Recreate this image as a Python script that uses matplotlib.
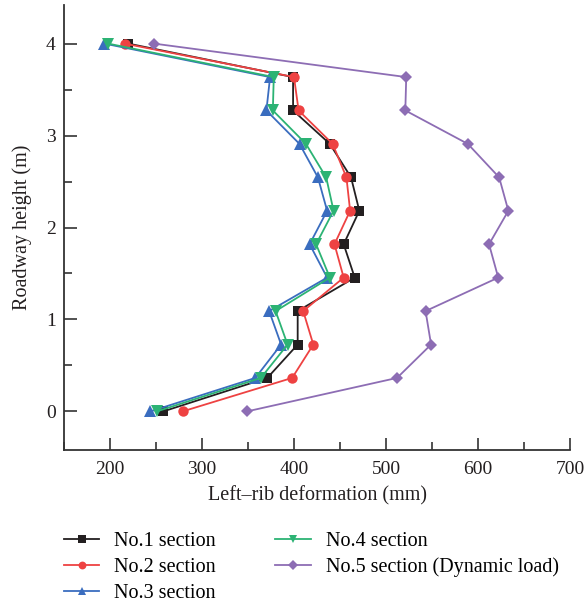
import matplotlib
matplotlib.use("Agg")
import matplotlib.pyplot as plt
from matplotlib.ticker import MultipleLocator

plt.rcParams['font.family'] = ['Liberation Serif', 'DejaVu Serif']

heights = [0, 0.364, 0.727, 1.091, 1.455, 1.818, 2.182, 2.545, 2.909, 3.273, 3.636, 4.0]
sec1 = [258, 371, 404, 404, 466, 454, 471, 462, 439, 399, 399, 220]
sec2 = [279, 398, 421, 410, 454, 444, 461, 457, 442, 405, 400, 216]
sec3 = [244, 358, 386, 373, 436, 417, 436, 426, 406, 370, 374, 194]
sec4 = [251, 364, 393, 380, 439, 424, 443, 435, 413, 377, 378, 198]
sec5 = [349, 512, 549, 543, 622, 612, 633, 623, 589, 521, 522, 248]

labels = ["No.1 section", "No.2 section", "No.3 section", "No.4 section",
          "No.5 section (Dynamic load)"]
series = [sec1, sec2, sec3, sec4, sec5]
colors = ["#231f20", "#ee4242", "#3a6dbf", "#2cb374", "#8d6db4"]
markers = ["s", "o", "^", "v", "D"]
msizes = [7.5, 7.5, 8, 8, 6.5]

fig = plt.figure(figsize=(5.87, 6.07), dpi=100)
ax = fig.add_axes([64/587, 1-450/607, (570-64)/587, (450-5)/607])

for s, lab, c, m, ms in zip(series, labels, colors, markers, msizes):
    ax.plot(s, heights, color=c, marker=m, markersize=ms, linewidth=1.3,
            label=lab, markeredgewidth=0)

ax.set_xlim(150, 700)
ax.set_ylim(-0.42, 4.42)
ax.xaxis.set_major_locator(MultipleLocator(100))
ax.xaxis.set_minor_locator(MultipleLocator(50))
ax.yaxis.set_major_locator(MultipleLocator(1))
ax.yaxis.set_minor_locator(MultipleLocator(0.5))
ax.tick_params(which='both', direction='in', width=1.2, color='#333333',
               labelsize=14, labelcolor='#231f20')
ax.tick_params(which='major', length=9)
ax.tick_params(which='minor', length=6)
ax.tick_params(axis='x', pad=8)
ax.tick_params(axis='y', pad=6)
for sp in ['top', 'right']:
    ax.spines[sp].set_visible(False)
for sp in ['left', 'bottom']:
    ax.spines[sp].set_linewidth(1.3)
    ax.spines[sp].set_color('#333333')

ax.set_xlabel("Left\u2013rib deformation (mm)", fontsize=14.5, color='#231f20', labelpad=6)
ax.set_ylabel("Roadway height (m)", fontsize=14.5, color='#231f20', labelpad=10)

fig.legend(loc='upper left', bbox_to_anchor=(64/587, 1-532/607), ncol=2,
           frameon=False, fontsize=14.5, handlelength=1.75, columnspacing=2.95,
           labelspacing=0.33, handletextpad=0.75, borderaxespad=0, borderpad=0,
           markerscale=0.75)

fig.savefig("out.png", dpi=100)
